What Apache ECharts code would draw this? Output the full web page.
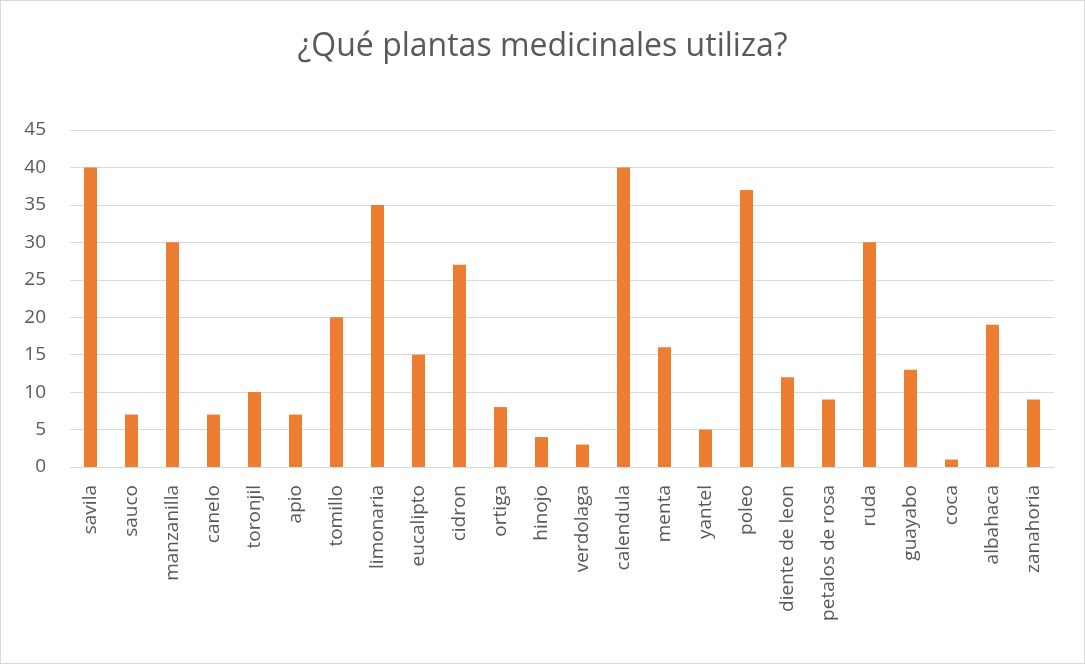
<!DOCTYPE html>
<html><head><meta charset="utf-8">
<script src="https://cdn.jsdelivr.net/npm/echarts@6/dist/echarts.min.js"></script>
<style>html,body{margin:0;padding:0;background:#fff;}#c{width:1085px;height:664px;box-sizing:border-box;border:1px solid #d9d9d9;}</style>
</head><body><div id="c"></div>
<script>
const categories = ["savila","sauco","manzanilla","canelo","toronjil","apio","tomillo","limonaria","eucalipto","cidron","ortiga","hinojo","verdolaga","calendula","menta","yantel","poleo","diente de leon","petalos de rosa","ruda","guayabo","coca","albahaca","zanahoria"];
const values = [40,7,30,7,10,7,20,35,15,27,8,4,3,40,16,5,37,12,9,30,13,1,19,9];
const yTicks = {min:0,max:45,interval:5};
const chart = echarts.init(document.getElementById('c'));
const font = '"Open Sans", "Noto Sans", sans-serif';
chart.setOption({
  animation:false,
  title:{text:'¿Qué plantas medicinales utiliza?',left:'center',top:25,textStyle:{fontFamily:font,fontSize:32,fontWeight:'normal',color:'#595959'}},
  grid:{left:69,right:30,top:129,bottom:196,containLabel:false},
  xAxis:{type:'category',data:categories,axisTick:{show:false},axisLine:{lineStyle:{color:'#d9d9d9',width:1}},
    axisLabel:{rotate:90,interval:0,fontFamily:font,fontSize:19,color:'#595959',margin:18}},
  yAxis:{type:'value',min:yTicks.min,max:yTicks.max,interval:yTicks.interval,axisLine:{show:false},axisTick:{show:false},
    splitLine:{lineStyle:{color:'#d9d9d9',width:1}},axisLabel:{fontFamily:font,fontSize:19,color:'#595959',margin:24}},
  series:[{type:'bar',data:values,barWidth:13,itemStyle:{color:'#ED7D31'}}]
});
</script></body></html>
